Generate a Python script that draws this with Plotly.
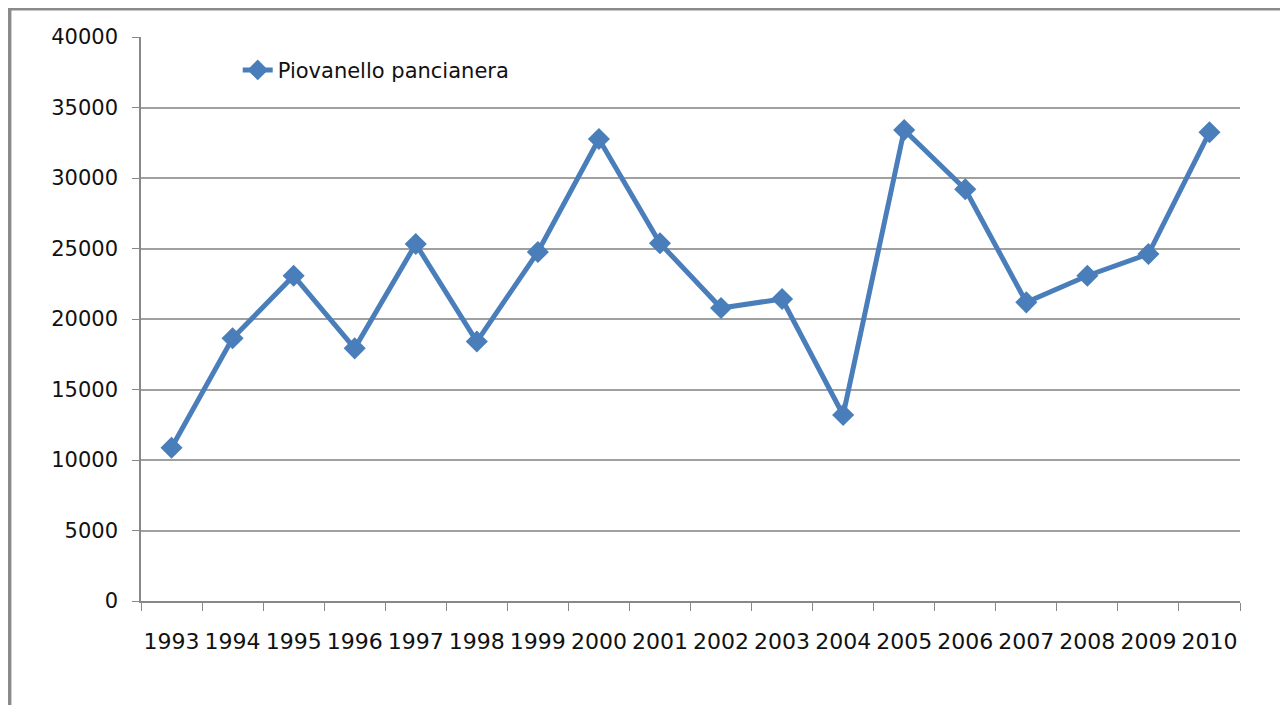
import plotly.graph_objects as go

ANNI = [str(a) for a in range(1993, 2011)]
CATTURE = [10870, 18630, 23070, 17920, 25320, 18400, 24750, 32770, 25370,
           20780, 21420, 13190, 33400, 29200, 21180, 23070, 24610, 33240]
SERIE = "Piovanello pancianera"

BLU = "#4a7ebb"
GRIGIO = "#a0a0a0"

fig = go.Figure(go.Scatter(
    x=ANNI, y=CATTURE, mode="lines+markers", name=SERIE,
    line=dict(color=BLU, width=5),
    marker=dict(symbol="diamond", size=17, color=BLU),
))

# la pagina ha un margine di 8px: figura ridotta per restare nella finestra
fig.update_layout(
    width=1280, height=697,
    plot_bgcolor="white", paper_bgcolor="white",
    margin=dict(l=133, r=48, t=29, b=104, autoexpand=False),
    font=dict(family="DejaVu Sans, Verdana, sans-serif", size=21, color="#111"),
    showlegend=True,
    legend=dict(x=0.088, y=0.941, xanchor="left", yanchor="middle",
                bgcolor="rgba(0,0,0,0)", font=dict(size=21)),
    shapes=[dict(type="rect", xref="paper", yref="paper",
                 x0=-0.1195, x1=1.046, y0=-0.3, y1=1.05,
                 line=dict(color="#8a8a8a", width=3.5), layer="below")],
)
fig.update_xaxes(
    type="category", range=[-0.5, len(ANNI) - 0.5],
    showline=True, linecolor="#888", linewidth=1.5,
    ticks="outside", tickson="boundaries", ticklen=8, tickcolor="#888",
    showgrid=False, tickfont=dict(size=22), tickangle=0, ticklabelstandoff=20,
)
fig.update_yaxes(
    range=[0, 40000], dtick=5000, tickformat="d",
    showline=True, linecolor="#888", linewidth=1.5,
    ticks="outside", ticklen=7, tickcolor="#888",
    gridcolor=GRIGIO, gridwidth=1.5, zeroline=False,
    tickfont=dict(size=21), ticklabelstandoff=10,
)

fig.write_html("out.html")
